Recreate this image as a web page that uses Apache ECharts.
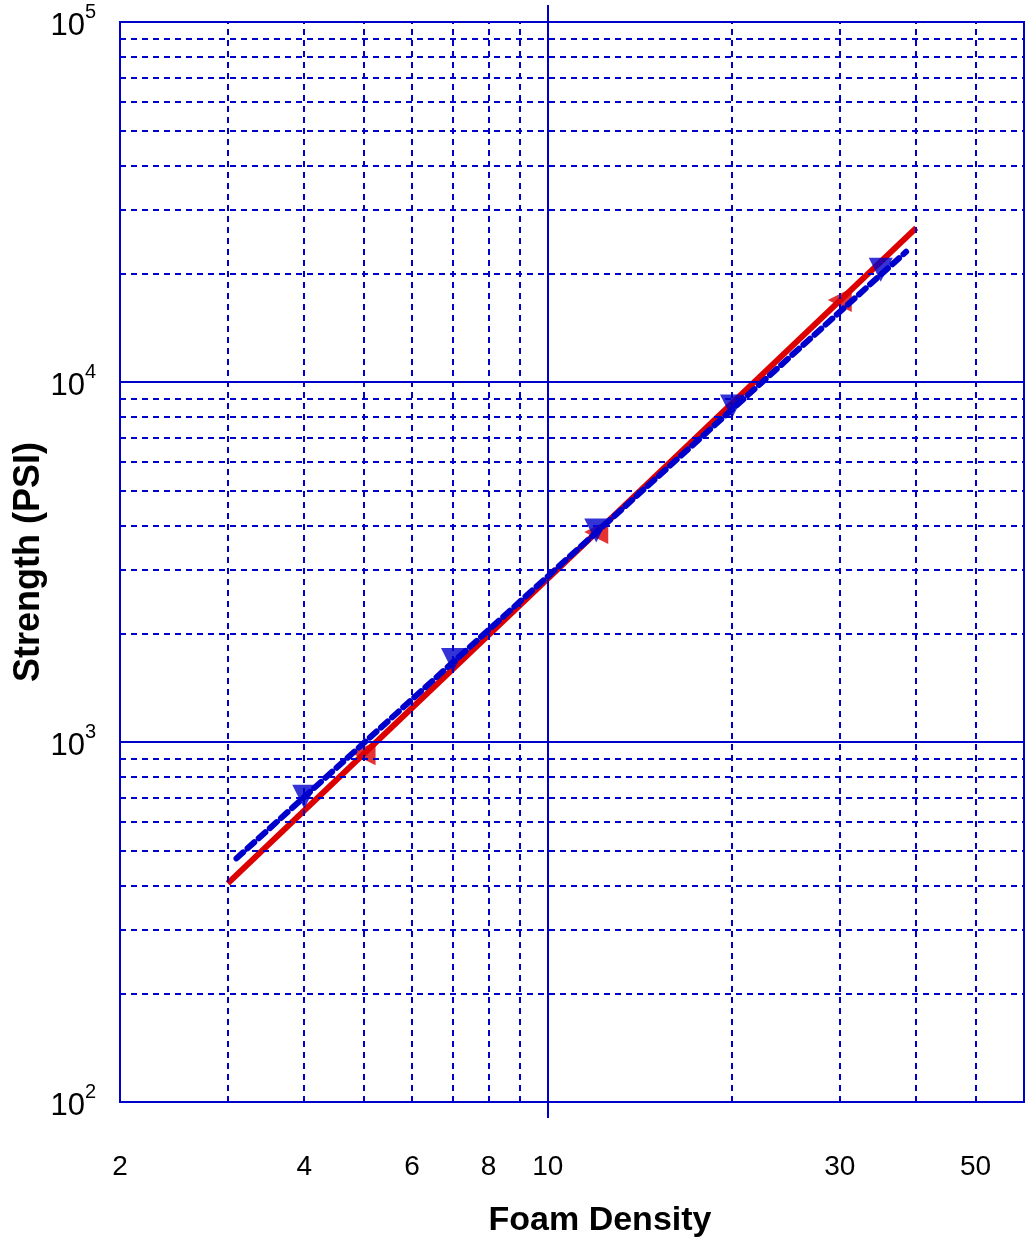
<!DOCTYPE html>
<html>
<head>
<meta charset="utf-8">
<script src="https://cdn.jsdelivr.net/npm/echarts@6/dist/echarts.min.js"></script>
<style>html,body{margin:0;padding:0;background:#fff}#c{width:1028px;height:1241px}</style>
</head>
<body>
<div id="c"></div>
<script>
const xTickLabels = [2, 4, 6, 8, 10, 30, 50];
const xGridDashed = [3, 4, 5, 6, 7, 8, 9, 20, 30, 40, 50];
const xGridSolid = [10];
const yGridDashed = [200,300,400,500,600,700,800,900,2000,3000,4000,5000,6000,7000,8000,9000,20000,30000,40000,50000,60000,70000,80000,90000];
const yGridSolid = [1000, 10000];

const redLineX = [3, 40];
const redLineY = [405, 26800];
const redMarkX = [5, 12, 30];
const redMarkY = [930, 3830, 16900];

const blueLineX = [3.1, 38.5];
const blueLineY = [475, 23000];
const blueMarkX = [4, 7, 12, 20, 35];
const blueMarkY = [705, 1690, 3870, 8550, 20500];

const BLUE = '#0000CC';
const RED = '#DD0000';
const zip = (a, b) => a.map((v, i) => [v, b[i]]);

const gridLines = [];
xGridDashed.forEach(v => gridLines.push({xAxis: v, lineStyle: {type: [6, 5], width: 2, color: BLUE}}));
xGridSolid.forEach(v => gridLines.push({xAxis: v, lineStyle: {type: 'solid', width: 2, color: BLUE}}));
yGridDashed.forEach(v => gridLines.push({yAxis: v, lineStyle: {type: [6, 5], width: 2, color: BLUE}}));
yGridSolid.forEach(v => gridLines.push({yAxis: v, lineStyle: {type: 'solid', width: 2, color: BLUE}}));

const chart = echarts.init(document.getElementById('c'), null, {renderer: 'canvas'});
chart.setOption({
  animation: false,
  backgroundColor: '#fff',
  grid: {left: 120, right: 4, top: 22, bottom: 139, containLabel: false, outerBoundsMode: 'none',
    show: true, borderColor: BLUE, borderWidth: 2, backgroundColor: 'transparent'},
  xAxis: [{
    type: 'log', logBase: 10, min: 2, max: 60,
    name: 'Foam Density', nameLocation: 'middle', nameGap: 102,
    nameTextStyle: {fontFamily: 'Liberation Sans', fontWeight: 'bold', fontSize: 34, color: '#000', padding: [0, 0, 0, 56]},
    axisLine: {show: true, lineStyle: {color: BLUE, width: 2}},
    axisTick: {show: true, customValues: [10], inside: false, length: 16, lineStyle: {color: BLUE, width: 2}},
    axisLabel: {customValues: xTickLabels, margin: 51, fontFamily: 'Liberation Sans', fontSize: 28, color: '#000'},
    splitLine: {show: false}
  }, {
    type: 'log', logBase: 10, min: 2, max: 60, position: 'top',
    axisLine: {show: false},
    axisTick: {show: true, customValues: [10], inside: false, length: 17, lineStyle: {color: BLUE, width: 2}},
    axisLabel: {show: false},
    splitLine: {show: false}
  }],
  yAxis: {
    type: 'log', logBase: 10, min: 100, max: 100000,
    name: 'Strength (PSI)', nameLocation: 'middle', nameGap: 73, nameMoveOverlap: false,
    nameTextStyle: {fontFamily: 'Liberation Sans', fontWeight: 'bold', fontSize: 36, color: '#000'},
    axisLine: {show: true, lineStyle: {color: BLUE, width: 2}},
    axisTick: {show: false},
    axisLabel: {
      margin: 24, color: '#000',
      formatter: v => '{b|10}{s|' + Math.round(Math.log10(v)) + '}',
      rich: {
        b: {fontFamily: 'Liberation Sans', fontSize: 31, color: '#000', verticalAlign: 'bottom', padding: [8, 0, 0, 0]},
        s: {fontFamily: 'Liberation Sans', fontSize: 20, color: '#000', verticalAlign: 'top', padding: [0, 0, 16, 0]}
      }
    },
    splitLine: {show: false}
  },
  series: [
    {
      type: 'line', data: [], silent: true,
      markLine: {silent: true, symbol: 'none', label: {show: false}, animation: false, data: gridLines}
    },
    {
      type: 'line', data: zip(redLineX, redLineY), showSymbol: false, symbol: 'none',
      lineStyle: {color: RED, width: 6}, z: 3
    },
    {
      type: 'scatter', data: zip(redMarkX, redMarkY), symbol: 'triangle', symbolRotate: 90, symbolSize: 24,
      itemStyle: {color: RED}, z: 3
    },
    {
      type: 'line', data: zip(blueLineX, blueLineY), showSymbol: false, symbol: 'none',
      lineStyle: {color: BLUE, width: 6, type: [9, 6], cap: 'round'}, z: 4
    },
    {
      type: 'scatter', data: zip(blueMarkX, blueMarkY), symbol: 'triangle', symbolRotate: 180, symbolSize: 24,
      itemStyle: {color: BLUE}, z: 5
    }
  ]
});
</script>
</body>
</html>
